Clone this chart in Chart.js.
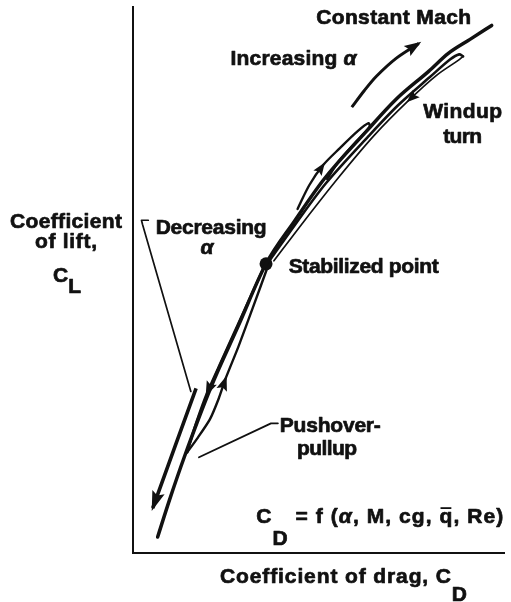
<!DOCTYPE html>
<html>
<head>
<meta charset="utf-8">
<script src="https://cdn.jsdelivr.net/npm/chart.js@4.4.1/dist/chart.umd.min.js"></script>
<style>
  html, body { margin: 0; padding: 0; background: #fff; }
</style>
</head>
<body>
<canvas id="polar" width="511" height="602"></canvas>
<script>
// schematic drag polar, arbitrary units: CD 0-100 across, CL 0-100 up

// constant Mach curve
const machCD = [6.63, 9.81, 13.79, 20.95, 28.38, 35.81, 43.50, 51.46, 62.86, 70.82, 79.58, 84.88, 90.72, 96.55];
const machCL = [2.92, 9.67, 17.52, 30.29, 41.61, 52.92, 60.77, 68.43, 77.19, 83.03, 88.14, 91.42, 93.98, 96.53];

// stabilized point
const stabCD = [35.81];
const stabCL = [52.92];

// windup turn, out and back
const windOutCD = [36.34, 43.77, 51.99, 63.40, 71.35, 79.84, 85.41, 87.80, 88.86];
const windOutCL = [53.10, 60.22, 67.70, 76.28, 81.93, 87.04, 90.33, 91.24, 90.88];
const windBackCD = [88.86, 87.53, 81.70, 74.27, 64.99, 55.44, 45.89, 37.93];
const windBackCL = [90.88, 90.15, 87.41, 82.85, 76.46, 68.80, 60.58, 53.47];

// small windup loop
const loopCD = [44.30, 47.48, 51.19, 55.70, 60.48, 63.40, 63.66, 60.21, 55.44, 52.25];
const loopCL = [62.96, 67.34, 70.99, 74.09, 77.19, 78.65, 77.92, 75.36, 71.72, 68.43];

// pushover-pullup, down and back up
const pushDownCD = [35.28, 28.12, 23.61, 19.89, 17.24, 15.12, 14.59];
const pushDownCL = [52.37, 41.61, 34.85, 29.20, 24.27, 19.71, 18.43];
const pushUpCD = [14.59, 17.51, 20.69, 23.08, 24.93, 28.38, 32.36, 36.07];
const pushUpCL = [18.43, 21.17, 24.45, 28.28, 31.93, 37.77, 45.07, 52.01];

// direction arrows
const decCD = [16.98, 11.41, 5.31];
const decCL = [30.11, 19.71, 8.21];
const incCD = [58.89, 62.33, 65.52, 70.82, 76.92];
const incCL = [81.57, 84.67, 87.23, 90.51, 93.25];

// leader lines
const leadDecCD = [4.11, 2.28, 2.55, 15.57];
const leadDecCL = [60.89, 60.89, 60.16, 29.56];
const leadPushCD = [17.77, 37.14, 38.99];
const leadPushCL = [17.52, 23.72, 23.72];

const INK = '#111';
const FAMILY = '"Liberation Sans", Arial, Helvetica, sans-serif';

const zip = (xs, ys) => xs.map((x, i) => ({ x: x, y: ys[i] }));

function line(xs, ys, width, extra) {
  return Object.assign({
    data: zip(xs, ys),
    showLine: true,
    borderColor: INK,
    borderWidth: width,
    pointRadius: 0,
    fill: false,
    tension: 0.3,
    borderCapStyle: 'round',
    borderJoinStyle: 'round'
  }, extra || {});
}

// labels inside the plot, placed in data units
const notes = [
  { runs: [{ t: 'Constant Mach' }], x: 70.16, y: 96.72, align: 'center', w: 155 },
  { runs: [{ t: 'Increasing ' }, { t: 'α', it: true }], x: 26.26, y: 89.23, align: 'left', w: 126 },
  { runs: [{ t: 'Windup' }], x: 88.73, y: 79.56, align: 'center', w: 79 },
  { runs: [{ t: 'turn' }], x: 88.73, y: 75.09, align: 'center', w: 39 },
  { runs: [{ t: 'Stabilized point' }], x: 41.91, y: 51.28, align: 'left', w: 150 },
  { runs: [{ t: 'Decreasing' }], x: 6.10, y: 58.39, align: 'left', w: 111 },
  { runs: [{ t: 'α', it: true }], x: 19.89, y: 54.74, align: 'center' },
  { runs: [{ t: 'Pushover-' }], x: 39.52, y: 22.08, align: 'left', w: 101 },
  { runs: [{ t: 'pullup' }], x: 52.25, y: 17.88, align: 'center', w: 60 },
  { runs: [{ t: 'C' }, { t: 'D', dy: 22 }, { t: ' = f (' }, { t: 'α', it: true }, { t: ', M, cg, ' }, { t: 'q', bar: true }, { t: ', Re)' }],
    x: 33.16, y: 5.47, align: 'left', w: 247 }
];

// axis titles, canvas pixels
const axisNotes = [
  { runs: [{ t: 'Coefficient' }], x: 66, y: 228, align: 'center', w: 112 },
  { runs: [{ t: 'of lift,' }], x: 66, y: 248, align: 'center', w: 62 },
  { runs: [{ t: 'C' }, { t: 'L', dy: 11 }], x: 53, y: 282, align: 'left' },
  { runs: [{ t: 'Coefficient of drag, C' }, { t: 'D', dy: 18 }], x: 220, y: 583, align: 'left', w: 247 }
];

function drawRuns(c, note, x, y) {
  const chars = [];
  note.runs.forEach(r => {
    for (const ch of r.t) {
      chars.push({ ch: ch, font: (r.it ? 'italic ' : '') + 'bold 21px ' + FAMILY, dy: r.dy || 0, bar: r.bar });
    }
  });
  let nat = 0;
  chars.forEach(o => { c.font = o.font; o.w = c.measureText(o.ch).width; nat += o.w; });
  const gap = note.w && chars.length > 1 ? (note.w - nat) / (chars.length - 1) : 0;
  const total = nat + gap * (chars.length - 1);
  let cx = note.align === 'center' ? x - total / 2 : x;
  c.textAlign = 'left';
  c.textBaseline = 'alphabetic';
  c.fillStyle = INK;
  c.strokeStyle = INK;
  c.lineJoin = 'round';
  chars.forEach(o => {
    c.font = o.font;
    c.fillText(o.ch, cx, y + o.dy);
    // scanned print is heavier than the screen bold
    c.lineWidth = 0.7;
    c.strokeText(o.ch, cx, y + o.dy);
    if (o.bar) {
      c.lineWidth = 1.8;
      c.beginPath();
      c.moveTo(cx + 1, y - 15);
      c.lineTo(cx + o.w - 1, y - 15);
      c.stroke();
    }
    cx += o.w + gap;
  });
}

const textPlugin = {
  id: 'textNotes',
  afterDraw(chart) {
    const c = chart.ctx;
    const sx = chart.scales.x, sy = chart.scales.y;
    c.save();
    notes.forEach(n => drawRuns(c, n, sx.getPixelForValue(n.x), sy.getPixelForValue(n.y)));
    axisNotes.forEach(n => drawRuns(c, n, n.x, n.y));
    c.restore();
  }
};

const arrowPlugin = {
  id: 'arrowHeads',
  afterDatasetsDraw(chart) {
    const c = chart.ctx;
    chart.data.datasets.forEach((ds, i) => {
      if (!ds.arrowAt) return;
      const pts = chart.getDatasetMeta(i).data;
      const L = ds.arrowLen || 14, W = ds.arrowWid || 5;
      ds.arrowAt.forEach(k => {
        const a = pts[k - 1], b = pts[k];
        const ang = Math.atan2(b.y - a.y, b.x - a.x);
        c.save();
        c.translate(b.x, b.y);
        c.rotate(ang);
        c.beginPath();
        c.moveTo(3, 0);
        c.lineTo(3 - L, -W);
        c.lineTo(3 - L * 0.82, 0);
        c.lineTo(3 - L, W);
        c.closePath();
        c.fillStyle = INK;
        c.fill();
        c.restore();
      });
    });
  }
};

const datasets = [
  line(machCD, machCL, 3.5, { cubicInterpolationMode: 'monotone' }),
  line(windOutCD, windOutCL, 2.6),
  line(windBackCD, windBackCL, 1.7, { arrowAt: [3], arrowLen: 13, arrowWid: 5 }),
  line(loopCD, loopCL, 2.4, { arrowAt: [2], arrowLen: 13, arrowWid: 5 }),
  line(pushDownCD, pushDownCL, 2.6, { tension: 0.2, arrowAt: [3], arrowLen: 15, arrowWid: 5.5 }),
  line(pushUpCD, pushUpCL, 2.4, { tension: 0.2, arrowAt: [4], arrowLen: 15, arrowWid: 5.5 }),
  line(decCD, decCL, 3.6, { tension: 0, borderCapStyle: 'butt', arrowAt: [2], arrowLen: 20, arrowWid: 6.5 }),
  line(incCD, incCL, 3, { borderCapStyle: 'butt', arrowAt: [4], arrowLen: 17, arrowWid: 6 }),
  line(leadDecCD, leadDecCL, 1.7, { tension: 0 }),
  line(leadPushCD, leadPushCL, 1.9, { tension: 0 }),
  { data: zip(stabCD, stabCL), showLine: false, pointRadius: 6.5, pointBackgroundColor: INK, pointBorderWidth: 0 }
];

const axis = {
  type: 'linear',
  min: 0,
  max: 100,
  ticks: { display: false },
  grid: { display: false, drawTicks: false },
  border: { display: true, color: INK, width: 2 }
};

new Chart(document.getElementById('polar').getContext('2d'), {
  type: 'scatter',
  data: { datasets: datasets },
  options: {
    responsive: false,
    animation: false,
    devicePixelRatio: 1,
    events: [],
    layout: { padding: { left: 133, right: 1, top: 5, bottom: 49 } },
    plugins: { legend: { display: false }, tooltip: { enabled: false } },
    scales: { x: axis, y: axis }
  },
  plugins: [arrowPlugin, textPlugin]
});
</script>
</body>
</html>
